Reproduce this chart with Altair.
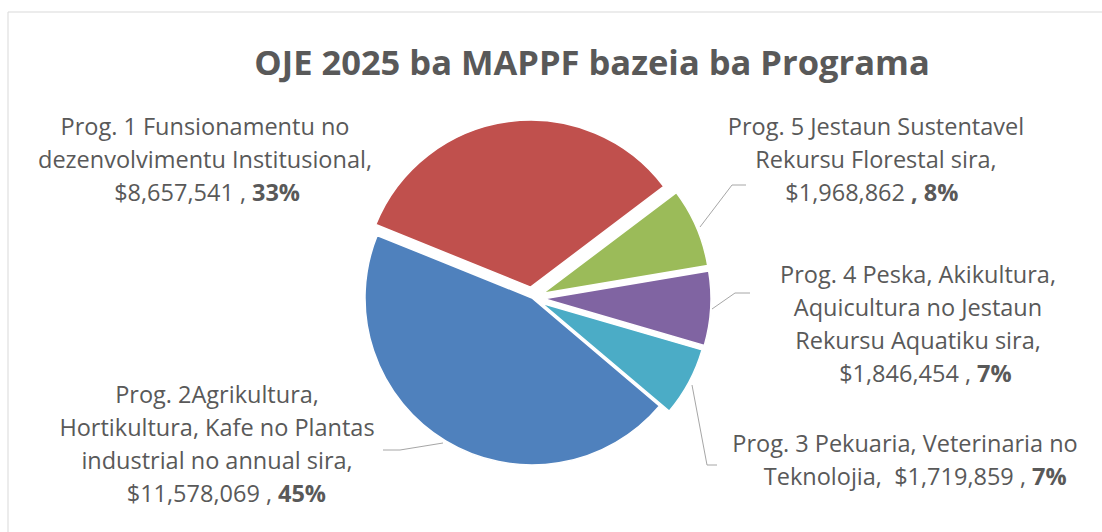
import math
import altair as alt
import pandas as pd

# ---------------- data ----------------
programs = ["Prog. 1", "Prog. 2", "Prog. 3", "Prog. 4", "Prog. 5"]
budget = [8657541, 11578069, 1719859, 1846454, 1968862]
label_head = [
    ["Prog. 1 Funsionamentu no", "dezenvolvimentu Institusional,"],
    ["Prog. 2Agrikultura,", "Hortikultura, Kafe no Plantas", "industrial no annual sira,"],
    ["Prog. 3 Pekuaria, Veterinaria no"],
    ["Prog. 4 Peska, Akikultura,", "Aquicultura no Jestaun", "Rekursu Aquatiku sira,"],
    ["Prog. 5 Jestaun Sustentavel", "Rekursu Florestal sira,"],
]
amount_prefix = ["", "", "Teknolojia, \u00a0", "", ""]
amount_sep = [" ,", " ,", " ,", " ,", ""]
percent_text = ["33%", "45%", "7%", "7%", ", 8%"]
title_text = "OJE 2025 ba MAPPF bazeia ba Programa"

# ---------------- style / layout ----------------
colors = ["#C0504D", "#4F81BD", "#4BACC6", "#8064A2", "#9BBB59"]
clockwise_pos = [0, 4, 3, 2, 1]          # drawing order clockwise from start angle
start_deg = -68
pie_cx, pie_cy, pie_r = 532, 298, 167
explode_px = [11, 0, 11, 12, 12]
label_cx = [205, 217, 905, 918, 876]
label_y1 = [135, 403, 452, 283, 135]
split_x = [252, 278, 1032, 977, 911]
line_h = 33
leader_pts = {
    "Prog. 2": [(443, 443), (400, 450), (383, 450)],
    "Prog. 3": [(692, 385), (707, 465), (717, 465)],
    "Prog. 4": [(712, 309), (735, 293), (750, 293)],
    "Prog. 5": [(700, 227), (732, 185), (746, 185)],
}
W, H = 1102, 532
FONT = "Open Sans"
TXT = "#595959"
LABEL_SIZE = 23.5
TITLE_SIZE = 34.5

PX = alt.Scale(domain=[0, W], range=[0, W], nice=False, zero=False)
PY = alt.Scale(domain=[0, H], range=[0, H], nice=False, zero=False)
t0 = math.radians(start_deg)

# ---------------- frame ----------------
frame = alt.Chart(pd.DataFrame({"a": [0]})).mark_rect(
    fill="white", stroke="#D9D9D9", strokeWidth=1
).encode(x=alt.value(8), x2=alt.value(W + 10), y=alt.value(12), y2=alt.value(H + 10))

# ---------------- pie ----------------
pie_df = pd.DataFrame({
    "program": programs,
    "budget": budget,
    "pos": clockwise_pos,
    "explode": explode_px,
})
pie = alt.Chart(pie_df).transform_joinaggregate(
    total="sum(budget)"
).transform_window(
    cum="sum(budget)", sort=[alt.SortField("pos")], frame=[None, 0]
).transform_calculate(
    f0="(datum.cum - datum.budget) / datum.total",
    f1="datum.cum / datum.total",
).transform_calculate(
    mid=f"{t0} + PI * (datum.f0 + datum.f1)",
).transform_calculate(
    px=f"{pie_cx} + datum.explode * sin(datum.mid)",
    py=f"{pie_cy} - datum.explode * cos(datum.mid)",
).mark_arc(radius=pie_r, stroke="white", strokeWidth=1.5).encode(
    theta=alt.Theta("f0:Q", scale=alt.Scale(domain=[0, 1], range=[t0, t0 + 2 * math.pi]), stack=None),
    theta2="f1:Q",
    x=alt.X("px:Q", scale=PX, axis=None),
    y=alt.Y("py:Q", scale=PY, axis=None),
    color=alt.Color("program:N", scale=alt.Scale(domain=programs, range=colors), legend=None),
)

# ---------------- leader lines ----------------
rows = []
for p, pts in leader_pts.items():
    for i, (x, y) in enumerate(pts):
        rows.append({"program": p, "i": i, "lx": x, "ly": y})
leaders = alt.Chart(pd.DataFrame(rows)).mark_line(color="#A6A6A6", strokeWidth=1).encode(
    x=alt.X("lx:Q", scale=PX, axis=None),
    y=alt.Y("ly:Q", scale=PY, axis=None),
    detail="program:N",
    order="i:Q",
)

# ---------------- labels ----------------
lab_df = pd.DataFrame({
    "program": programs,
    "head": ["\n".join(l) for l in label_head],
    "amount": [amount_prefix[i] + "${:,}".format(budget[i]) + amount_sep[i] for i in range(5)],
    "pct": percent_text,
    "cx": label_cx,
    "y1": label_y1,
    "ylast": [label_y1[i] + line_h * len(label_head[i]) for i in range(5)],
    "split": split_x,
    "split_n": [s - 6 for s in split_x],
})
base = alt.Chart(lab_df)
head = base.mark_text(
    font=FONT, fontSize=LABEL_SIZE, color=TXT, align="center", baseline="alphabetic",
    lineBreak="\n", lineHeight=line_h,
).encode(x=alt.X("cx:Q", scale=PX, axis=None), y=alt.Y("y1:Q", scale=PY, axis=None), text="head:N")
amount = base.mark_text(
    font=FONT, fontSize=LABEL_SIZE, color=TXT, align="right", baseline="alphabetic",
).encode(x=alt.X("split_n:Q", scale=PX, axis=None), y=alt.Y("ylast:Q", scale=PY, axis=None), text="amount:N")
pct = base.mark_text(
    font=FONT, fontSize=LABEL_SIZE, color=TXT, align="left", baseline="alphabetic", fontWeight="bold",
).encode(x=alt.X("split:Q", scale=PX, axis=None), y=alt.Y("ylast:Q", scale=PY, axis=None), text="pct:N")

title = alt.Chart(pd.DataFrame({"t": [title_text]})).mark_text(
    font=FONT, fontSize=TITLE_SIZE, fontWeight="bold", color=TXT, align="center", baseline="alphabetic",
).encode(x=alt.value(592), y=alt.value(75), text="t:N")

chart = alt.layer(frame, pie, leaders, head, amount, pct, title).properties(
    width=W, height=H, autosize="none", padding=0, background="white"
).configure_view(stroke=None)

chart.save("out.html", embed_options={"renderer": "svg", "actions": False})
